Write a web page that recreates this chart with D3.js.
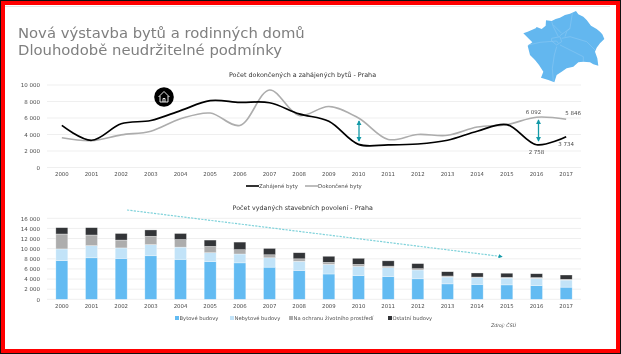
<!DOCTYPE html>
<html>
<head>
<meta charset="utf-8">
<script src="https://cdn.jsdelivr.net/npm/d3@7"></script>
<style>
html, body { margin: 0; padding: 0; background: #fff; }
svg { display: block; font-family: "DejaVu Sans", sans-serif; }
</style>
</head>
<body>
<div id="chart"></div>
<script>
// data
const years = d3.range(2000, 2018).map(String);
const zahajene = [5100, 3300, 5300, 5700, 6900, 8100, 7900, 7850, 6500, 5600, 2800, 2750, 2850, 3300, 4400, 5200, 2758, 3734];
const dokoncene = [3600, 3250, 3950, 4400, 5900, 6600, 5100, 9400, 6300, 7400, 6000, 3400, 4000, 3900, 4900, 5200, 6092, 5846];

const bytove = [7650, 8200, 8100, 8600, 7900, 7450, 7200, 6350, 5700, 5000, 4700, 4500, 4050, 3050, 2950, 2850, 2700, 2400];
const nebytove = [2300, 2400, 2050, 2200, 2400, 1750, 1750, 1850, 1800, 1900, 1800, 1750, 1750, 1350, 1350, 1350, 1450, 1400];
const ochrana = [2950, 2100, 1550, 1650, 1500, 1250, 850, 600, 500, 400, 400, 300, 250, 200, 100, 150, 150, 150];
const ostatni = [1250, 1450, 1300, 1250, 1200, 1250, 1500, 1250, 1200, 1200, 1200, 1050, 1000, 850, 800, 800, 750, 850];

const stackKeys = ["Bytové budovy", "Nebytové budovy", "Na ochranu životního prostředí", "Ostatní budovy"];
const stackValues = [bytove, nebytove, ochrana, ostatni];
const stackColors = ["#63bbf2", "#c2e3f8", "#adadad", "#333538"];

const lineTicks = [0, 2000, 4000, 6000, 8000, 10000];
const barTicks = [0, 2000, 4000, 6000, 8000, 10000, 12000, 14000, 16000];

// obrys mapy Prahy (jen dekorace), souřadnice v měřítku 3x
const mapOutline = [[25,85],[38,80],[50,75],[62,70],[65,66],[80,72],[92,62],[93,46],[110,48],[122,42],[135,38],[150,30],[165,26],[183,18],[190,28],[205,35],[215,45],[228,62],[245,72],[255,80],[262,88],[268,102],[255,115],[245,128],[240,140],[247,160],[250,182],[235,178],[225,172],[205,170],[190,172],[175,185],[155,190],[140,200],[125,210],[118,232],[100,225],[78,218],[85,200],[72,180],[60,165],[45,150],[38,122],[52,112],[40,100]];
const mapLines = [
  [[40,120],[75,112],[125,108],[130,115]],
  [[110,100],[135,95],[140,110],[125,120],[110,108],[110,100]],
  [[130,95],[115,65],[110,50]],
  [[135,92],[165,70],[172,25]],
  [[115,60],[140,85]],
  [[165,70],[155,80],[150,95]],
  [[140,100],[165,95],[215,110],[240,135]],
  [[135,120],[165,135],[205,155],[205,170]],
  [[125,125],[118,150],[112,190],[115,230]]
];

const W = 621, H = 354;
const svg = d3.select("#chart").append("svg").attr("width", W).attr("height", H);
const textCol = "#4d4d4d";
const numFormat = d3.formatLocale({ decimal: ",", thousands: " ", grouping: [3], currency: ["", ""] }).format(",");

// rámeček
svg.append("rect").attr("x", 0.5).attr("y", 0.5).attr("width", W - 1).attr("height", H - 1).attr("fill", "none").attr("stroke", "#111");
svg.append("rect").attr("x", 3).attr("y", 3).attr("width", W - 6).attr("height", H - 6).attr("fill", "none").attr("stroke", "#ff0000").attr("stroke-width", 4);

// obsah je v originále lehce rozmazaný
const root = svg.append("g").style("filter", "blur(0.3px)");
root.append("line").attr("x1", 5).attr("x2", 610).attr("y1", 6.5).attr("y2", 6.5).attr("stroke", "#e4e4e4");

// nadpis
root.append("text").attr("x", 18).attr("y", 37.5).attr("font-size", 14.8).attr("fill", "#7f7f7f").text("Nová výstavba bytů a rodinných domů");
root.append("text").attr("x", 18).attr("y", 55).attr("font-size", 14.8).attr("fill", "#7f7f7f").text("Dlouhodobě neudržitelné podmínky");

// mapa
const pathLine = d3.line();
const mapG = root.append("g").attr("transform", "translate(515,5) scale(0.3333)");
mapG.append("path").attr("d", pathLine(mapOutline) + "Z").attr("fill", "#63b7ef");
mapG.append("g").selectAll("path").data(mapLines).join("path")
  .attr("d", pathLine).attr("fill", "none").attr("stroke", "#8fcbf3").attr("stroke-width", 1.6);

const x = d3.scaleBand().domain(years).range([47, 581]);
const cx = d => x(d) + x.bandwidth() / 2;

function axes(y, ticks, bottom) {
  const g = root.append("g");
  g.selectAll("line").data(ticks).join("line")
    .attr("x1", 47).attr("x2", 581)
    .attr("y1", d => y(d)).attr("y2", d => y(d))
    .attr("stroke", "#efefef").attr("stroke-width", 1);
  const ax = root.append("g").attr("transform", `translate(0,${bottom + 5})`)
    .call(d3.axisBottom(x).tickSize(0).tickPadding(0));
  ax.select(".domain").remove();
  ax.selectAll("text").attr("font-size", 5.4).attr("fill", textCol).attr("font-family", "DejaVu Sans");
  const ay = root.append("g").attr("transform", "translate(40,0)")
    .call(d3.axisLeft(y).tickValues(ticks).tickSize(0).tickPadding(0).tickFormat(numFormat));
  ay.select(".domain").remove();
  ay.selectAll("text").attr("font-size", 5.5).attr("fill", textCol).attr("font-family", "DejaVu Sans");
}

// horní graf
const y1 = d3.scaleLinear().domain([0, 10000]).range([167.5, 85]);
root.append("text").attr("x", 302.5).attr("y", 77).attr("text-anchor", "middle").attr("font-size", 6.4).attr("fill", "#333")
  .text("Počet dokončených a zahájených bytů - Praha");
axes(y1, lineTicks, 167.5);

const line = vals => d3.line().x((d, i) => cx(years[i])).y(d => y1(d)).curve(d3.curveCatmullRom.alpha(0.5))(vals);
root.append("path").attr("d", line(dokoncene)).attr("fill", "none").attr("stroke", "#adadad").attr("stroke-width", 1.6);
root.append("path").attr("d", line(zahajene)).attr("fill", "none").attr("stroke", "#000").attr("stroke-width", 1.7);

// popisky hodnot
const lineLabels = [
  { year: "2016", val: 6092, dx: -3, dy: -3 },
  { year: "2017", val: 5846, dx: 7, dy: -4 },
  { year: "2017", val: 3734, dx: 0, dy: 9.5 },
  { year: "2016", val: 2758, dx: 0, dy: 9.3 }
];
root.append("g").selectAll("text").data(lineLabels).join("text")
  .attr("x", d => cx(d.year) + d.dx).attr("y", d => y1(d.val) + d.dy)
  .attr("text-anchor", "middle").attr("font-size", 5.5).attr("fill", textCol)
  .text(d => numFormat(d.val));

// legenda horní
const lg1 = root.append("g");
lg1.append("line").attr("x1", 246).attr("x2", 259).attr("y1", 186).attr("y2", 186).attr("stroke", "#000").attr("stroke-width", 1.6);
lg1.append("text").attr("x", 259).attr("y", 188).attr("font-size", 5.4).attr("fill", textCol).text("Zahájené byty");
lg1.append("line").attr("x1", 305).attr("x2", 318).attr("y1", 186).attr("y2", 186).attr("stroke", "#adadad").attr("stroke-width", 1.6);
lg1.append("text").attr("x", 318).attr("y", 188).attr("font-size", 5.4).attr("fill", textCol).text("Dokončené byty");

// ikona domu
root.append("circle").attr("cx", 164).attr("cy", 97).attr("r", 9.8).attr("fill", "#000");
root.append("path").attr("d", "M158.5 97 L164 91.5 L169.5 97 M160 96 V102 H168 V96 M163 102 V98.5 H165 V102")
  .attr("fill", "none").attr("stroke", "#fff").attr("stroke-width", 0.9);

// šipky
root.append("defs").append("marker").attr("id", "tip").attr("viewBox", "0 0 6 6").attr("refX", 5).attr("refY", 3)
  .attr("markerWidth", 4).attr("markerHeight", 4).attr("orient", "auto-start-reverse")
  .append("path").attr("d", "M0 0L6 3L0 6Z").attr("fill", "#149aa8");
[[359, 121, 141], [538.5, 120, 141]].forEach(a => {
  root.append("line").attr("x1", a[0]).attr("x2", a[0]).attr("y1", a[1]).attr("y2", a[2])
    .attr("stroke", "#149aa8").attr("stroke-width", 1.3)
    .attr("marker-start", "url(#tip)").attr("marker-end", "url(#tip)");
});

// dolní graf
const y2 = d3.scaleLinear().domain([0, 16000]).range([299.3, 218.3]);
root.append("text").attr("x", 302.7).attr("y", 210).attr("text-anchor", "middle").attr("font-size", 6.35).attr("fill", "#333")
  .text("Počet vydaných stavebních povolení - Praha");
axes(y2, barTicks, 299.3);

const rows = years.map((yr, i) => {
  const r = { year: yr };
  stackKeys.forEach((k, j) => { r[k] = stackValues[j][i]; });
  return r;
});
const series = d3.stack().keys(stackKeys)(rows);
const barW = 12;
root.append("g").selectAll("g").data(series).join("g")
  .attr("fill", (d, i) => stackColors[i])
  .selectAll("rect").data(d => d).join("rect")
  .attr("x", d => cx(d.data.year) - barW / 2)
  .attr("width", barW)
  .attr("y", d => y2(d[1]))
  .attr("height", d => y2(d[0]) - y2(d[1]))
  .attr("stroke", "#fff").attr("stroke-opacity", 0.55).attr("stroke-width", 0.6);

// trendová čára
root.append("defs").append("marker").attr("id", "trend").attr("viewBox", "0 0 6 6").attr("refX", 5).attr("refY", 3)
  .attr("markerWidth", 3.5).attr("markerHeight", 3.5).attr("orient", "auto")
  .append("path").attr("d", "M0 0L6 3L0 6Z").attr("fill", "#149aa8");
root.append("line").attr("x1", 127).attr("y1", 210).attr("x2", 502).attr("y2", 256.6)
  .attr("stroke", "#7fd2da").attr("stroke-width", 1.2).attr("stroke-dasharray", "2.2 1.2")
  .attr("marker-end", "url(#trend)");

// legenda dolní
const lgX = [175, 230, 289, 388];
const lg2 = root.append("g").selectAll("g").data(stackKeys).join("g")
  .attr("transform", (d, i) => `translate(${lgX[i]},318)`);
lg2.append("rect").attr("x", 0).attr("y", -2).attr("width", 4).attr("height", 4).attr("fill", (d, i) => stackColors[i]);
lg2.append("text").attr("x", 4.5).attr("y", 2).attr("font-size", 5.2).attr("fill", textCol).text(d => d);

root.append("text").attr("x", 491).attr("y", 326.5).attr("font-size", 4.7).attr("font-style", "italic").attr("fill", textCol).text("Zdroj: ČSÚ");
</script>
</body>
</html>
